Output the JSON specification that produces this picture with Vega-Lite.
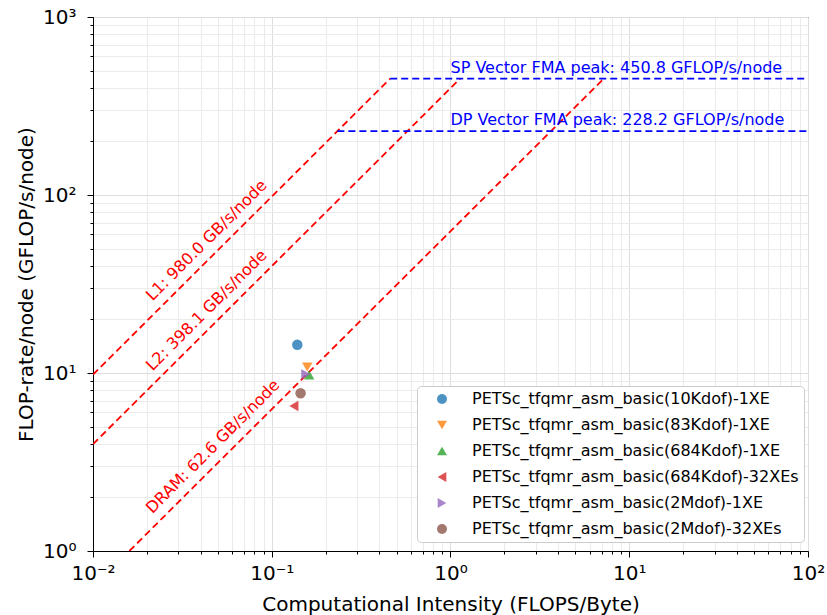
{
  "$schema": "https://vega.github.io/schema/vega-lite/v6.json",
  "width": 715,
  "height": 534,
  "autosize": {"type": "none"},
  "padding": {"left": 93, "top": 17, "right": 19, "bottom": 64},
  "background": "white",
  "config": {
    "font": "DejaVu Sans",
    "view": {"stroke": "black", "strokeWidth": 1},
    "axis": {
      "domainColor": "black",
      "tickColor": "black",
      "labelColor": "black",
      "titleColor": "black",
      "titleFontWeight": "normal"
    },
    "legend": {
      "orient": "none",
      "legendX": 324,
      "legendY": 369,
      "fillColor": "white",
      "strokeColor": "#cccccc",
      "cornerRadius": 4,
      "padding": 5,
      "labelFontSize": 16,
      "labelColor": "black",
      "labelLimit": 400,
      "symbolSize": 100,
      "symbolOpacity": 0.8,
      "symbolStrokeWidth": 0,
      "symbolOffset": 12,
      "labelOffset": 22,
      "rowPadding": 10
    }
  },
  "datasets": {
    "roofs": [
      {"roof": "L1", "intensity": 0.01, "gflops": 9.8},
      {"roof": "L1", "intensity": 0.46, "gflops": 450.8},
      {"roof": "L2", "intensity": 0.01, "gflops": 3.981},
      {"roof": "L2", "intensity": 1.1324, "gflops": 450.8},
      {"roof": "DRAM", "intensity": 0.015974, "gflops": 1.0},
      {"roof": "DRAM", "intensity": 7.2013, "gflops": 450.8}
    ],
    "peaks": [
      {"peak": "SP", "intensity": 0.46, "gflops": 450.8},
      {"peak": "SP", "intensity": 100, "gflops": 450.8},
      {"peak": "DP", "intensity": 0.2329, "gflops": 228.2},
      {"peak": "DP", "intensity": 100, "gflops": 228.2}
    ],
    "roofLabels": [
      {"label": "L1: 980.0 GB/s/node", "intensity": 0.0215, "gflops": 25.2},
      {"label": "L2: 398.1 GB/s/node", "intensity": 0.0215, "gflops": 10.2},
      {"label": "DRAM: 62.6 GB/s/node", "intensity": 0.0215, "gflops": 1.61}
    ],
    "peakLabels": [
      {"label": "SP Vector FMA peak: 450.8 GFLOP/s/node", "intensity": 1.0, "gflops": 450.8},
      {"label": "DP Vector FMA peak: 228.2 GFLOP/s/node", "intensity": 1.0, "gflops": 228.2}
    ],
    "runs": [
      {"series": "PETSc_tfqmr_asm_basic(10Kdof)-1XE", "intensity": 0.139, "gflops": 14.4},
      {"series": "PETSc_tfqmr_asm_basic(83Kdof)-1XE", "intensity": 0.158, "gflops": 10.8},
      {"series": "PETSc_tfqmr_asm_basic(684Kdof)-1XE", "intensity": 0.162, "gflops": 9.75},
      {"series": "PETSc_tfqmr_asm_basic(684Kdof)-32XEs", "intensity": 0.133, "gflops": 6.53},
      {"series": "PETSc_tfqmr_asm_basic(2Mdof)-1XE", "intensity": 0.155, "gflops": 9.84},
      {"series": "PETSc_tfqmr_asm_basic(2Mdof)-32XEs", "intensity": 0.145, "gflops": 7.69}
    ]
  },
  "resolve": {
    "scale": {"x": "shared", "y": "shared"},
    "axis": {"x": "independent", "y": "independent"}
  },
  "layer": [
    {
      "data": {"name": "roofs"},
      "mark": {"type": "line", "color": "#ff0000", "strokeWidth": 1.8, "strokeDash": [7, 4], "clip": true},
      "encoding": {
        "detail": {"field": "roof", "type": "nominal"},
        "x": {
          "field": "intensity", "type": "quantitative",
          "scale": {"type": "log", "domain": [0.01, 100], "nice": false},
          "axis": {
            "orient": "bottom",
            "values": [0.02, 0.03, 0.04, 0.05, 0.06, 0.07, 0.08, 0.09, 0.2, 0.3, 0.4, 0.5, 0.6, 0.7, 0.8, 0.9, 2, 3, 4, 5, 6, 7, 8, 9, 20, 30, 40, 50, 60, 70, 80, 90],
            "grid": true, "gridColor": "#ebebeb", "gridWidth": 1,
            "tickSize": 3, "labels": false, "domain": false, "title": null
          }
        },
        "y": {
          "field": "gflops", "type": "quantitative",
          "scale": {"type": "log", "domain": [1, 1000], "nice": false},
          "axis": {
            "orient": "left",
            "values": [2, 3, 4, 5, 6, 7, 8, 9, 20, 30, 40, 50, 60, 70, 80, 90, 200, 300, 400, 500, 600, 700, 800, 900],
            "grid": true, "gridColor": "#ebebeb", "gridWidth": 1,
            "tickSize": 3, "labels": false, "domain": false, "title": null
          }
        }
      }
    },
    {
      "data": {"name": "peaks"},
      "mark": {"type": "line", "color": "#0000ff", "strokeWidth": 1.8, "strokeDash": [7, 4], "clip": true},
      "encoding": {
        "detail": {"field": "peak", "type": "nominal"},
        "x": {"field": "intensity", "type": "quantitative", "scale": {"type": "log", "domain": [0.01, 100], "nice": false}, "axis": null},
        "y": {"field": "gflops", "type": "quantitative", "scale": {"type": "log", "domain": [1, 1000], "nice": false}, "axis": null}
      }
    },
    {
      "data": {"name": "runs"},
      "mark": {"type": "point", "filled": true, "opacity": 0.8, "size": 110},
      "encoding": {
        "x": {
          "field": "intensity", "type": "quantitative",
          "scale": {"type": "log", "domain": [0.01, 100], "nice": false},
          "axis": {
            "orient": "bottom",
            "values": [0.01, 0.1, 1, 10, 100],
            "grid": true, "gridColor": "#dddddd", "gridWidth": 1,
            "tickSize": 6, "labelFontSize": 20, "labelPadding": 6, "labelFlush": false,
            "labelExpr": "'10' + ['⁻²', '⁻¹', '⁰', '¹', '²'][round(log(datum.value) / LN10) + 2]",
            "title": "Computational Intensity (FLOPS/Byte)", "titleFontSize": 20, "titlePadding": 11
          }
        },
        "y": {
          "field": "gflops", "type": "quantitative",
          "scale": {"type": "log", "domain": [1, 1000], "nice": false},
          "axis": {
            "orient": "left",
            "values": [1, 10, 100, 1000],
            "grid": true, "gridColor": "#dddddd", "gridWidth": 1,
            "tickSize": 6, "labelFontSize": 20, "labelPadding": 11, "labelFlush": false,
            "labelExpr": "'10' + ['⁰', '¹', '²', '³'][round(log(datum.value) / LN10)]",
            "title": "FLOP-rate/node (GFLOP/s/node)", "titleFontSize": 20, "titlePadding": 6
          }
        },
        "color": {
          "field": "series", "type": "nominal", "title": null,
          "scale": {
            "domain": ["PETSc_tfqmr_asm_basic(10Kdof)-1XE", "PETSc_tfqmr_asm_basic(83Kdof)-1XE", "PETSc_tfqmr_asm_basic(684Kdof)-1XE", "PETSc_tfqmr_asm_basic(684Kdof)-32XEs", "PETSc_tfqmr_asm_basic(2Mdof)-1XE", "PETSc_tfqmr_asm_basic(2Mdof)-32XEs"],
            "range": ["#1f77b4", "#ff7f0e", "#2ca02c", "#d62728", "#9467bd", "#8c564b"]
          }
        },
        "shape": {
          "field": "series", "type": "nominal", "title": null,
          "scale": {
            "domain": ["PETSc_tfqmr_asm_basic(10Kdof)-1XE", "PETSc_tfqmr_asm_basic(83Kdof)-1XE", "PETSc_tfqmr_asm_basic(684Kdof)-1XE", "PETSc_tfqmr_asm_basic(684Kdof)-32XEs", "PETSc_tfqmr_asm_basic(2Mdof)-1XE", "PETSc_tfqmr_asm_basic(2Mdof)-32XEs"],
            "range": ["circle", "triangle-down", "triangle-up", "triangle-left", "triangle-right", "circle"]
          }
        }
      }
    },
    {
      "data": {"name": "roofLabels"},
      "mark": {"type": "text", "color": "#ff0000", "fontSize": 16, "angle": 315, "align": "left", "baseline": "alphabetic"},
      "encoding": {
        "text": {"field": "label"},
        "x": {"field": "intensity", "type": "quantitative", "scale": {"type": "log", "domain": [0.01, 100], "nice": false}, "axis": null},
        "y": {"field": "gflops", "type": "quantitative", "scale": {"type": "log", "domain": [1, 1000], "nice": false}, "axis": null}
      }
    },
    {
      "data": {"name": "peakLabels"},
      "mark": {"type": "text", "color": "#0000ff", "fontSize": 16, "align": "left", "baseline": "alphabetic", "dy": -6},
      "encoding": {
        "text": {"field": "label"},
        "x": {"field": "intensity", "type": "quantitative", "scale": {"type": "log", "domain": [0.01, 100], "nice": false}, "axis": null},
        "y": {"field": "gflops", "type": "quantitative", "scale": {"type": "log", "domain": [1, 1000], "nice": false}, "axis": null}
      }
    }
  ]
}
